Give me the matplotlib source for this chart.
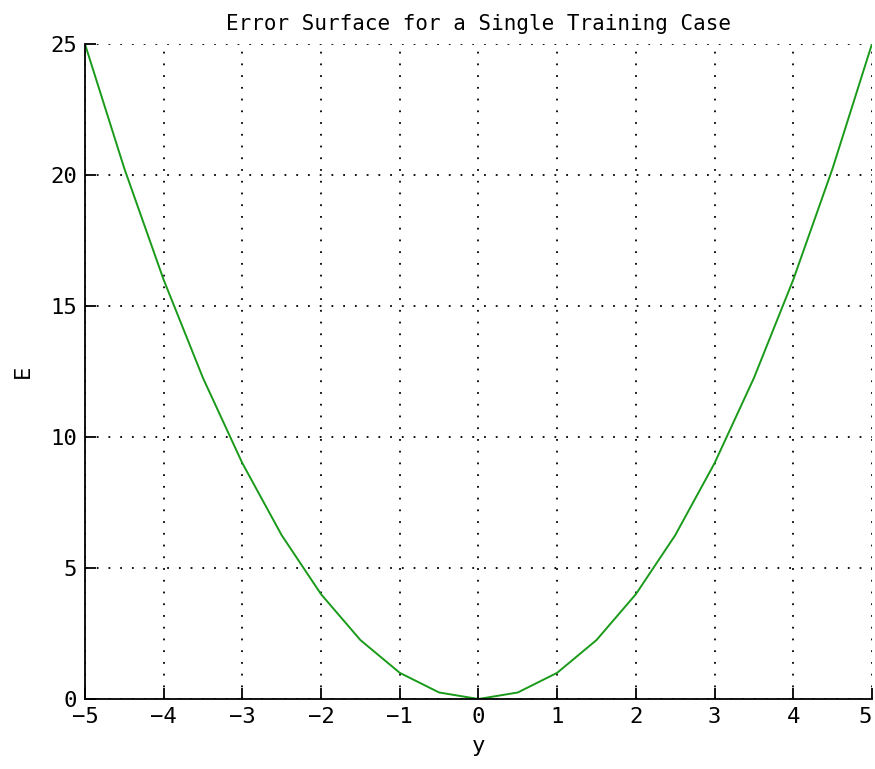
import matplotlib
matplotlib.use("Agg")
import matplotlib.pyplot as plt

y_vals = [-5, -4.5, -4, -3.5, -3, -2.5, -2, -1.5, -1, -0.5, 0,
          0.5, 1, 1.5, 2, 2.5, 3, 3.5, 4, 4.5, 5]
e_vals = [25, 20.25, 16, 12.25, 9, 6.25, 4, 2.25, 1, 0.25, 0,
          0.25, 1, 2.25, 4, 6.25, 9, 12.25, 16, 20.25, 25]
x_ticks = [-5, -4, -3, -2, -1, 0, 1, 2, 3, 4, 5]
e_ticks = [0, 5, 10, 15, 20, 25]

plt.rcParams['font.family'] = 'DejaVu Sans Mono'

fig = plt.figure(figsize=(8.75, 7.69), dpi=100)
ax = fig.add_axes([0.0971, 0.0910, 0.8994, 0.8518])

ax.plot(y_vals, e_vals, color='#1a9a1a', linewidth=1.4)

ax.set_xlim(-5, 5)
ax.set_ylim(0, 25)
ax.set_xticks(x_ticks)
ax.set_yticks(e_ticks)
ax.set_xticklabels([str(t).replace('-', '\u2212') for t in x_ticks])
ax.grid(True, color='black', linestyle=(0, (1, 5.5)), linewidth=1.3)

ax.spines['top'].set_visible(False)
ax.spines['right'].set_visible(False)
ax.spines['left'].set_linewidth(1.3)
ax.spines['bottom'].set_linewidth(1.3)
ax.tick_params(direction='in', length=8, width=1.3, labelsize=16, pad=6)
# last x label would run off the edge
ax.get_xticklabels()[-1].set_horizontalalignment('right')

ax.set_title('Error Surface for a Single Training Case', fontsize=15, pad=10)
ax.set_xlabel('y', fontsize=16, labelpad=6)
ax.set_ylabel('E', fontsize=16, labelpad=12)

fig.savefig('out.png', dpi=100)
